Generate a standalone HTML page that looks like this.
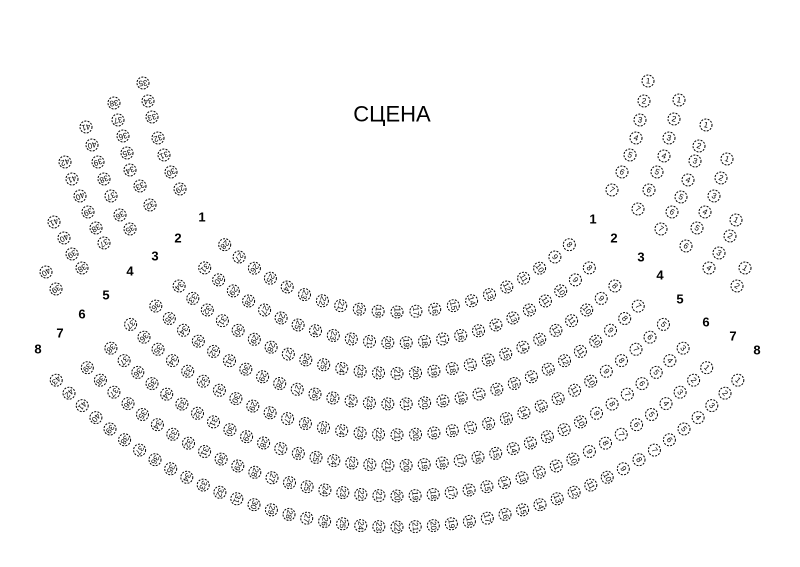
<!DOCTYPE html>
<html><head><meta charset="utf-8"><style>
html,body{margin:0;padding:0;background:#fff;}
svg{display:block;font-family:"Liberation Sans",sans-serif;}
.s circle{fill:#fff;stroke:#000;stroke-width:1;stroke-dasharray:2 1.3;}
.s text{font-size:8px;fill:#000;text-anchor:middle;dominant-baseline:central;}
.rl{font-size:13px;font-weight:bold;text-anchor:middle;dominant-baseline:central;}
</style></head><body>
<svg id="sv" width="800" height="567" viewBox="0 0 800 567" xmlns="http://www.w3.org/2000/svg">
<text x="392" y="114" font-size="22" text-anchor="middle" dominant-baseline="central">СЦЕНА</text>
<g class="rl">
<text x="202" y="217">1</text><text x="178" y="238">2</text><text x="155" y="256">3</text><text x="130" y="271">4</text>
<text x="106" y="295">5</text><text x="82" y="314">6</text><text x="60" y="333">7</text><text x="38" y="349">8</text>
<text x="593" y="219">1</text><text x="614" y="238">2</text><text x="641" y="257">3</text><text x="660" y="275">4</text>
<text x="680" y="299">5</text><text x="706" y="322">6</text><text x="733" y="336">7</text><text x="757" y="350">8</text>
</g>
<g id="seats" class="s"></g>
</svg>
<script>
var g=document.getElementById('seats'),NS='http://www.w3.org/2000/svg',cx=397,cy=58;
function seat(x,y,n){
  var a=Math.atan2(y-cy,x-cx)*180/Math.PI;
  var e=document.createElementNS(NS,'g');
  e.setAttribute('transform','translate('+x.toFixed(1)+','+y.toFixed(1)+')');
  var c=document.createElementNS(NS,'circle');c.setAttribute('r','6');e.appendChild(c);
  var t=document.createElementNS(NS,'text');t.setAttribute('transform','rotate('+a.toFixed(1)+')');t.textContent=n;e.appendChild(t);
  g.appendChild(e);
}
var rows=[[254,42.7,8,28],[284.7,42.5,8,31],[315.4,43.7,8,34],[346,44.2,7,36],[376.8,45,5,37],[407.5,44.6,3,38],[438,45,1,39],[469,46.6,1,43]];
rows.forEach(function(r){
  var n=r[3]-r[2]+1;
  for(var i=0;i<n;i++){
    var ang=(r[1]-2*r[1]*i/(n-1))*Math.PI/180;
    seat(cx+r[0]*Math.sin(ang),cy+r[0]*Math.cos(ang),r[2]+i);
  }
});
var L=[
 [[143,83,35],[148,101,34],[152,117,33],[158,138,32],[164,155,31],[171,172,30],[180,189,29]],
 [[114,103,38],[118,120,37],[123,136,36],[127,153,35],[130,170,34],[140,186,33],[150,205,32]],
 [[86,127,41],[92,145,40],[98,162,39],[104,179,38],[111,196,37],[120,215,36],[130,229,35]],
 [[65,162,42],[72,179,41],[80,196,40],[88,212,39],[96,228,38],[104,243,37]],
 [[54,222,41],[64,238,40],[72,254,39],[82,268,38]],
 [[46,272,40],[56,289,39]]];
var R=[
 [[648,81,1],[644,101,2],[640,120,3],[636,138,4],[630,155,5],[622,172,6],[612,190,7]],
 [[679,100,1],[674,119,2],[669,138,3],[664,156,4],[657,172,5],[649,190,6],[638,209,7]],
 [[706,125,1],[699,146,2],[695,161,3],[688,180,4],[681,197,5],[672,212,6],[661,229,7]],
 [[727,159,1],[721,178,2],[714,196,3],[705,212,4],[697,228,5],[686,246,6]],
 [[736,220,1],[730,236,2],[719,253,3],[709,268,4]],
 [[745,268,1],[737,286,2]]];
L.concat(R).forEach(function(a){a.forEach(function(s){seat(s[0],s[1],s[2]);});});
</script>
</body></html>
